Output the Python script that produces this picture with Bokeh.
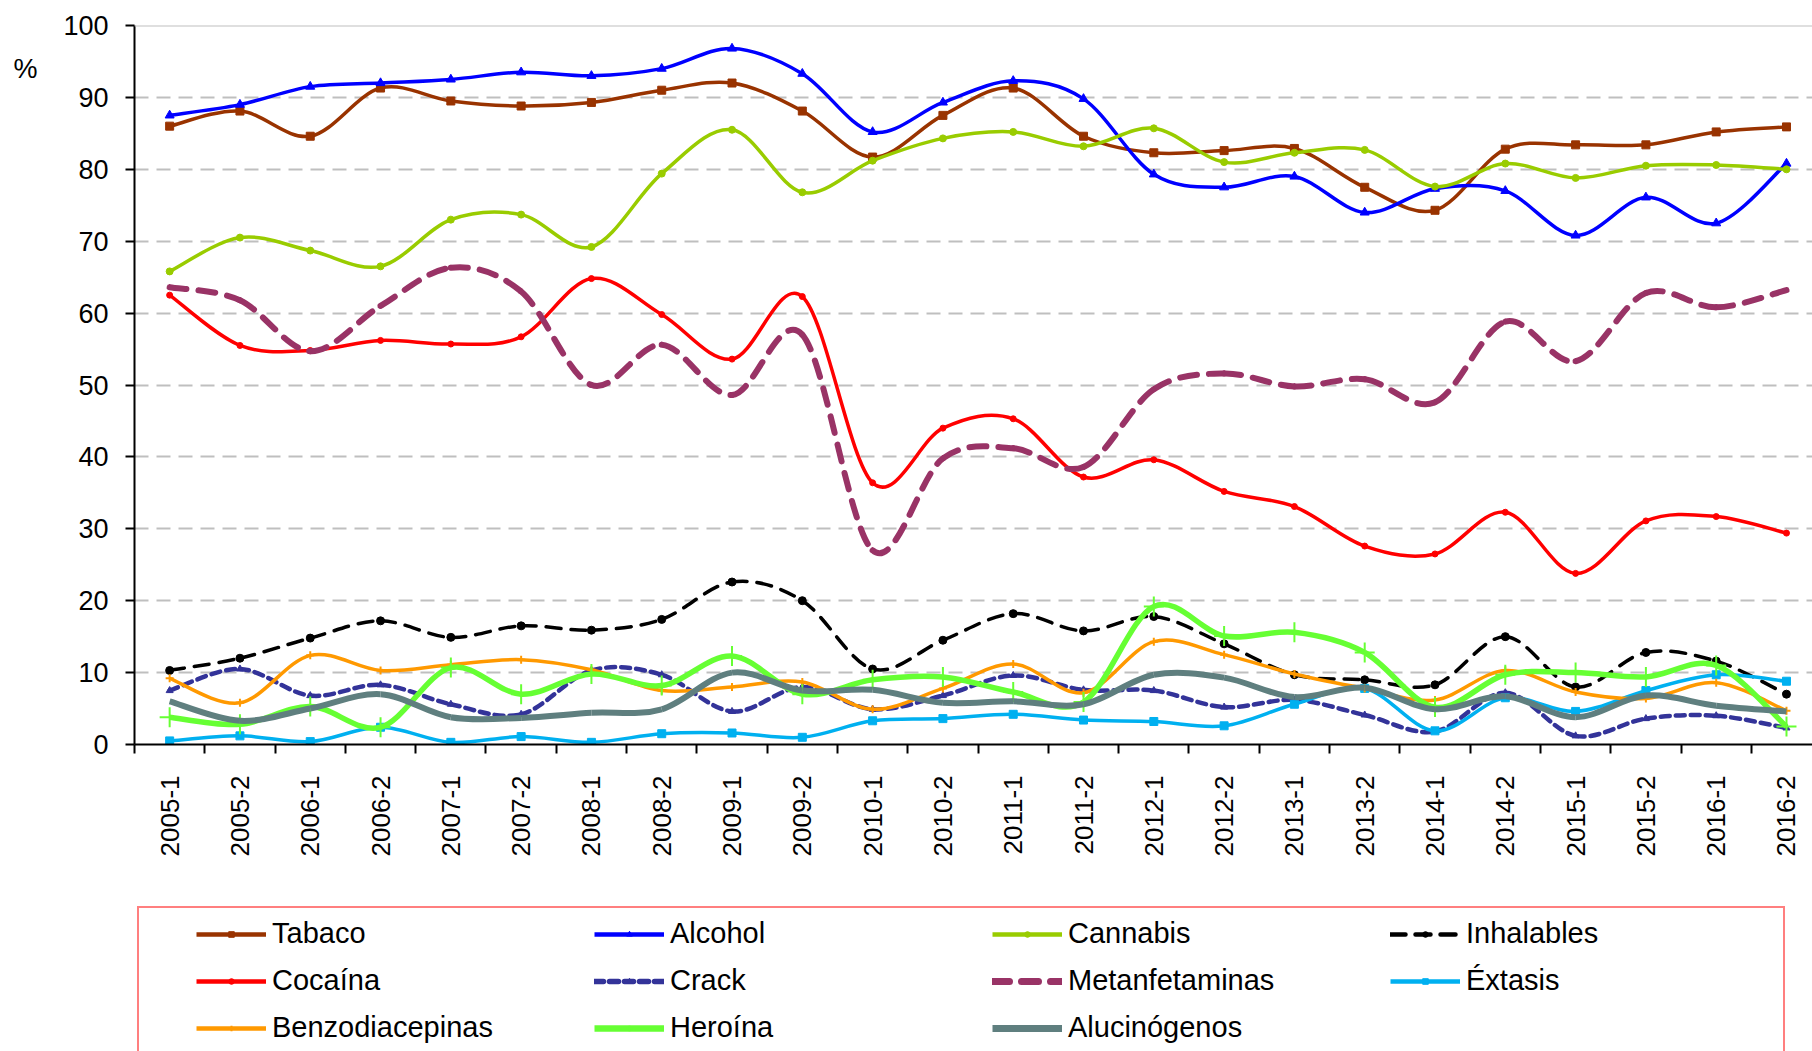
from bokeh.plotting import figure
from bokeh.layouts import column
from bokeh.models import Range1d, FixedTicker, Legend, LegendItem, Span, LinearAxis
from bokeh.embed import file_html
from bokeh.resources import INLINE

periods = ["2005-1", "2005-2", "2006-1", "2006-2", "2007-1", "2007-2", "2008-1", "2008-2",
           "2009-1", "2009-2", "2010-1", "2010-2", "2011-1", "2011-2", "2012-1", "2012-2",
           "2013-1", "2013-2", "2014-1", "2014-2", "2015-1", "2015-2", "2016-1", "2016-2"]

tabaco = [86.0, 88.1, 84.6, 91.3, 89.5, 88.8, 89.3, 91.0, 92.0, 88.1, 81.7, 87.5,
          91.3, 84.6, 82.3, 82.6, 82.9, 77.5, 74.3, 82.8, 83.4, 83.4, 85.2, 85.9]
alcohol = [87.5, 89.0, 91.5, 92.0, 92.5, 93.5, 93.0, 94.0, 96.8, 93.3, 85.2, 89.3,
           92.3, 89.8, 79.3, 77.5, 79.0, 74.0, 77.3, 77.0, 70.8, 76.1, 72.5, 80.8]
cannabis = [65.8, 70.5, 68.7, 66.5, 73.0, 73.7, 69.2, 79.4, 85.5, 76.8, 81.2, 84.3,
            85.2, 83.2, 85.7, 81.0, 82.3, 82.7, 77.6, 80.8, 78.8, 80.5, 80.6, 80.0]
inhalables = [10.3, 12.0, 14.8, 17.2, 14.9, 16.5, 15.9, 17.4, 22.6, 20.0, 10.5, 14.5,
              18.2, 15.8, 17.8, 14.0, 9.7, 9.0, 8.3, 15.0, 8.0, 12.8, 11.6, 7.0]
cocaina = [62.5, 55.5, 54.8, 56.2, 55.7, 56.7, 64.8, 59.8, 53.6, 62.3, 36.4, 44.0,
           45.3, 37.2, 39.6, 35.2, 33.1, 27.6, 26.5, 32.3, 23.8, 31.1, 31.7, 29.4]
crack = [7.5, 10.5, 6.8, 8.3, 5.6, 4.2, 10.3, 9.7, 4.6, 8.0, 4.9, 6.8,
         9.6, 7.6, 7.5, 5.2, 6.2, 4.1, 1.8, 7.2, 1.2, 3.6, 4.0, 2.3]
metanfetaminas = [63.6, 61.8, 54.7, 61.0, 66.3, 63.0, 50.0, 55.6, 48.6, 57.0, 27.0, 39.8,
                  41.2, 38.6, 49.4, 51.6, 49.8, 50.8, 47.6, 58.8, 53.3, 62.8, 60.8, 63.2]
extasis = [0.5, 1.2, 0.4, 2.4, 0.3, 1.1, 0.3, 1.5, 1.6, 1.0, 3.3, 3.6,
           4.2, 3.4, 3.2, 2.6, 5.6, 7.8, 1.9, 6.5, 4.6, 7.5, 9.7, 8.8]
benzodiacepinas = [9.2, 5.8, 12.4, 10.3, 11.1, 11.8, 10.4, 7.5, 8.0, 8.7, 4.9, 7.8,
                   11.2, 7.2, 14.3, 12.5, 9.8, 7.8, 6.2, 10.3, 7.3, 6.4, 8.6, 4.7]
heroina = [3.8, 2.8, 5.3, 2.4, 10.7, 7.0, 9.8, 8.2, 12.3, 7.0, 9.0, 9.4,
           7.3, 5.9, 19.2, 15.1, 15.6, 12.8, 5.2, 9.7, 10.0, 9.4, 11.0, 2.5]
alucinogenos = [6.0, 3.3, 5.0, 7.0, 3.8, 3.7, 4.4, 4.9, 10.0, 7.5, 7.6, 5.8,
                6.0, 5.6, 9.7, 9.3, 6.6, 7.9, 4.9, 6.7, 3.8, 6.8, 5.4, 4.6]

y_ticks = [0, 10, 20, 30, 40, 50, 60, 70, 80, 90, 100]
unit_label = "%"
unit_label_at = 94

series = [
    ("Tabaco", tabaco, dict(color="#993300", width=3.5, dash="solid", marker="square", size=8)),
    ("Alcohol", alcohol, dict(color="#0000FF", width=3.5, dash="solid", marker="triangle", size=9)),
    ("Cannabis", cannabis, dict(color="#99CC00", width=3.5, dash="solid", marker="circle", size=7)),
    ("Inhalables", inhalables, dict(color="#000000", width=3.5, dash="15 10", marker="circle", size=8)),
    ("Cocaína", cocaina, dict(color="#FF0000", width=3.5, dash="solid", marker="circle", size=6)),
    ("Crack", crack, dict(color="#333399", width=4.5, dash="9 6", marker="triangle", size=7)),
    ("Metanfetaminas", metanfetaminas, dict(color="#993366", width=6, dash="17 12", marker="triangle", size=5)),
    ("Éxtasis", extasis, dict(color="#00B0F0", width=3.5, dash="solid", marker="square", size=8)),
    ("Benzodiacepinas", benzodiacepinas, dict(color="#FF9900", width=3.5, dash="solid", marker="cross", size=8)),
    ("Heroína", heroina, dict(color="#66FF33", width=5.5, dash="solid", marker="cross", size=20)),
    ("Alucinógenos", alucinogenos, dict(color="#5F7F7F", width=6, dash="solid", marker=None, size=0)),
]

FONT = "Liberation Sans"


def smooth_segments(xs, ys):
    """Catmull-Rom style Bezier control points (as Excel's smoothed line)."""
    n = len(xs)
    d = dict(x0=[], y0=[], x1=[], y1=[], cx0=[], cy0=[], cx1=[], cy1=[])
    for i in range(n - 1):
        xm, ym = (xs[i - 1], ys[i - 1]) if i > 0 else (xs[i], ys[i])
        xp, yp = (xs[i + 2], ys[i + 2]) if i + 2 < n else (xs[i + 1], ys[i + 1])
        d["x0"].append(xs[i]); d["y0"].append(ys[i])
        d["x1"].append(xs[i + 1]); d["y1"].append(ys[i + 1])
        d["cx0"].append(xs[i] + (xs[i + 1] - xm) / 6.0)
        d["cy0"].append(ys[i] + (ys[i + 1] - ym) / 6.0)
        d["cx1"].append(xs[i + 1] - (xp - xs[i]) / 6.0)
        d["cy1"].append(ys[i + 1] - (yp - ys[i]) / 6.0)
    return d


def add_markers(fig, xvals, vals, st):
    if not st["marker"]:
        return None
    if st["marker"] == "cross":
        return fig.scatter(xvals, vals, marker="cross", size=st["size"],
                           line_color=st["color"], line_width=2)
    return fig.scatter(xvals, vals, marker=st["marker"], size=st["size"],
                       fill_color=st["color"], line_color=st["color"])


xs = list(range(len(periods)))

# ---------------- main chart ----------------
p = figure(width=1812, height=900,
           x_range=Range1d(-0.5, 23.37), y_range=Range1d(0, 100),
           output_backend="svg", toolbar_location=None,
           min_border_left=134, min_border_right=0, min_border_top=25, min_border_bottom=156)
p.outline_line_color = None
p.background_fill_color = "white"

p.xaxis.ticker = FixedTicker(ticks=xs, minor_ticks=[i - 0.5 for i in range(len(periods) + 1)])
p.xaxis.major_label_overrides = {i: periods[i] for i in xs}
p.xaxis.major_label_orientation = 3.14159265 / 2
p.xaxis.major_tick_out = 0
p.xaxis.major_tick_in = 0
p.xaxis.minor_tick_out = 9
p.xaxis.minor_tick_in = 0
p.xaxis.minor_tick_line_color = "black"
p.xaxis.minor_tick_line_width = 2
p.xaxis.major_label_standoff = 22
p.xaxis.major_label_text_font = FONT
p.xaxis.major_label_text_font_size = "26px"
p.xaxis.major_label_text_color = "black"
p.xaxis.axis_line_color = "black"
p.xaxis.axis_line_width = 2

p.yaxis.ticker = FixedTicker(ticks=y_ticks)
p.yaxis.major_tick_out = 9
p.yaxis.major_tick_in = 0
p.yaxis.minor_tick_out = 0
p.yaxis.minor_tick_in = 0
p.yaxis.major_tick_line_color = "black"
p.yaxis.major_tick_line_width = 2
p.yaxis.major_label_standoff = 17
p.yaxis.major_label_text_font = FONT
p.yaxis.major_label_text_font_size = "27px"
p.yaxis.major_label_text_color = "black"
p.yaxis.axis_line_color = "black"
p.yaxis.axis_line_width = 2

unit_axis = LinearAxis(ticker=FixedTicker(ticks=[unit_label_at]),
                       major_label_overrides={unit_label_at: unit_label},
                       axis_line_color=None, major_tick_line_color=None,
                       minor_tick_line_color=None, major_tick_out=0, major_tick_in=0,
                       major_label_standoff=23, major_label_text_font=FONT,
                       major_label_text_font_size="27px", major_label_text_color="black")
p.add_layout(unit_axis, "left")

p.xgrid.visible = False
p.ygrid.grid_line_color = "#BFBFBF"
p.ygrid.grid_line_width = 2
p.ygrid.grid_line_dash = "14 8"
p.add_layout(Span(location=100, dimension="width", line_color="#BFBFBF", line_width=2))

for name, vals, st in series:
    seg = smooth_segments(xs, vals)
    p.bezier(x0="x0", y0="y0", x1="x1", y1="y1", cx0="cx0", cy0="cy0",
             cx1="cx1", cy1="cy1", source=seg,
             line_color=st["color"], line_width=st["width"],
             line_dash=st["dash"], line_cap="round" if st["dash"] != "solid" else "butt")
    add_markers(p, xs, vals, st)

# ---------------- legend strip (same series, kept out of view) ----------------
lg = figure(width=1812, height=151, x_range=Range1d(1000, 1001), y_range=Range1d(1000, 1001),
            output_backend="svg", toolbar_location=None,
            x_axis_location=None, y_axis_location=None, min_border=0)
lg.outline_line_color = None
lg.grid.visible = False

items = []
for name, vals, st in series:
    r_line = lg.line(xs, vals, line_color=st["color"], line_width=st["width"] + 1,
                     line_dash=st["dash"], line_cap="round" if st["dash"] != "solid" else "butt")
    rends = [r_line]
    r_m = add_markers(lg, xs, vals, st)
    if r_m is not None:
        rends.append(r_m)
    items.append(LegendItem(label=name, renderers=rends))

legend = Legend(items=items, location=(3, -4), orientation="horizontal", ncols=4,
                label_text_font=FONT, label_text_font_size="29px", label_text_color="black",
                glyph_width=70, glyph_height=14, label_height=33, label_width=308,
                label_standoff=6, spacing=14, padding=9, margin=0,
                border_line_color="#FF0000", border_line_width=2,
                background_fill_color="white", background_fill_alpha=1.0,
                title=" ", title_location="left", title_text_font_size="12px",
                title_standoff=34)
lg.add_layout(legend)

layout = column(p, lg, spacing=0)
open("out.html", "w").write(file_html(layout, INLINE))
